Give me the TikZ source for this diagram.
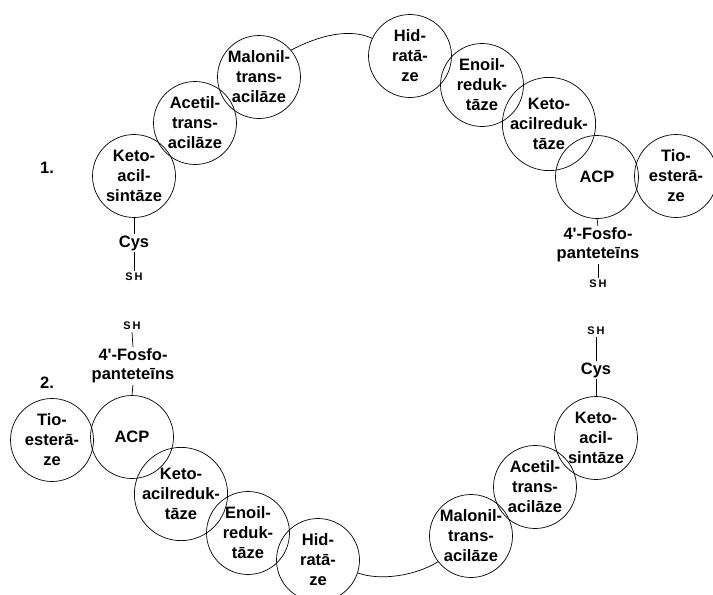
\documentclass[tikz,border=0pt]{standalone}
\usepackage{fontspec}
\setmainfont{Liberation Sans}[Ligatures=TeXOff]
\begin{document}
\begin{tikzpicture}[x=1pt,y=-1pt,
  enz/.style={draw,circle,minimum size=83pt,inner sep=0pt,align=center,
    font=\bfseries\fontsize{16.5}{20}\selectfont,line width=0.7pt},
  lab/.style={align=center,font=\bfseries\fontsize{16.5}{19}\selectfont,inner sep=1.5pt},
  shlab/.style={font=\bfseries\fontsize{11}{12}\selectfont,inner sep=2pt},
  lnk/.style={line width=0.7pt}]
\useasboundingbox (0,0) rectangle (713,595);
% ---------- complex 1 ----------
\node[enz] (ks1) at (134,176) {Keto-\\acil-\\sintāze};
\node[enz] (at1) at (195,123) {Acetil-\\trans-\\acilāze};
\node[enz] (mt1) at (259,77) {Malonil-\\trans-\\acilāze};
\node[enz] (hd1) at (410,56) {Hid-\\ratā-\\ze};
\node[enz] (er1) at (482,85) {Enoil-\\reduk-\\tāze};
\node[enz] (kr1) at (549,124) {Keto-\\acilreduk-\\tāze};
\node[enz] (acp1) at (597,177) {ACP};
\node[enz] (te1) at (676,176) {Tio-\\esterā-\\ze};
\node[lab] (n1) at (47,168) {1.};
\node[lab] (cys1) at (134,243) {Cys};
\node[shlab] (sha) at (134,277) {S\,H};
\node[lab] (fp1) at (598,245) {4'-Fosfo-\\panteteīns};
\node[shlab] (shb) at (598,284) {S\,H};
\draw[lnk] (ks1.south) -- (cys1.north);
\draw[lnk] (cys1.south) -- (sha.north);
\draw[lnk] (acp1.south) -- (fp1.north);
\draw[lnk] (fp1.south) -- (shb.north);
\draw[lnk] (mt1.40) .. controls (320,35) and (350,28) .. (hd1.155);
% ---------- complex 2 ----------
\node[enz] (te2) at (52,440) {Tio-\\esterā-\\ze};
\node[enz] (acp2) at (132,437) {ACP};
\node[enz] (kr2) at (181,494) {Keto-\\acilreduk-\\tāze};
\node[enz] (er2) at (248,533) {Enoil-\\reduk-\\tāze};
\node[enz] (hd2) at (318,560) {Hid-\\ratā-\\ze};
\node[enz] (mt2) at (471,536) {Malonil-\\trans-\\acilāze};
\node[enz] (at2) at (535,487) {Acetil-\\trans-\\acilāze};
\node[enz] (ks2) at (596,438) {Keto-\\acil-\\sintāze};
\node[lab] (n2) at (47,383) {2.};
\node[lab] (fp2) at (133,366) {4'-Fosfo-\\panteteīns};
\node[shlab] (shc) at (132,326) {S\,H};
\node[lab] (cys2) at (596,370) {Cys};
\node[shlab] (shd) at (596,331) {S\,H};
\draw[lnk] (acp2.north) -- (fp2.south);
\draw[lnk] (fp2.north) -- (shc.south);
\draw[lnk] (ks2.north) -- (cys2.south);
\draw[lnk] (cys2.north) -- (shd.south);
\draw[lnk] (hd2.-18) .. controls (380,581) and (415,576) .. (mt2.-142);
\end{tikzpicture}
\end{document}
